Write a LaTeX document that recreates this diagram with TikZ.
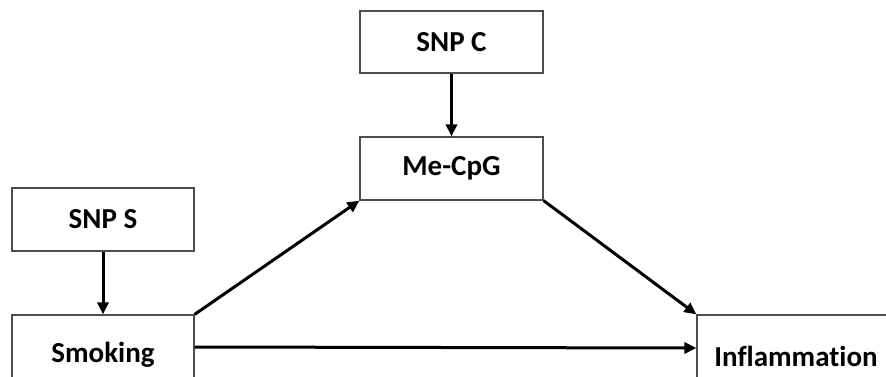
\documentclass[tikz,border=0pt]{standalone}
\usepackage{fontspec}
\setmainfont{Carlito}[Ligatures=NoCommon]
\usetikzlibrary{arrows.meta}
\begin{document}
\begin{tikzpicture}[x=1pt,y=-1pt,
  box/.style={draw=black!70,line width=1.2pt,fill=white,rectangle,inner sep=0pt,
    font=\fontsize{29}{34}\selectfont\bfseries},
  arr/.style={line width=3pt,-{Triangle[length=12pt,width=11pt]}}]
\useasboundingbox (0,0) rectangle (886,376);
\clip (0,0) rectangle (886,376);
\fill[white] (0,0) rectangle (886,376);
\node[box,minimum width=183pt,minimum height=62pt] (snpc) at (451.5,42) {SNP C};
\node[box,minimum width=183pt,minimum height=63pt] (mecpg) at (451.5,168.5) {Me-CpG};
\node[box,minimum width=182pt,minimum height=63pt] (snps) at (103,219.5) {SNP S};
\node[box,minimum width=182pt,minimum height=80pt] (smoking) at (103,355) {Smoking};
\node[box,minimum width=198pt,minimum height=82pt] (infl) at (796,356) {Inflammation};
\draw[arr] (snpc.south) -- (mecpg.north);
\draw[arr] (snps.south) -- (smoking.north);
\draw[arr] (smoking.north east) -- (mecpg.south west);
\draw[arr] (mecpg.south east) -- (infl.north west);
\draw[arr] ([yshift=8pt]smoking.east) -- ([yshift=8pt]infl.west);
\end{tikzpicture}
\end{document}
